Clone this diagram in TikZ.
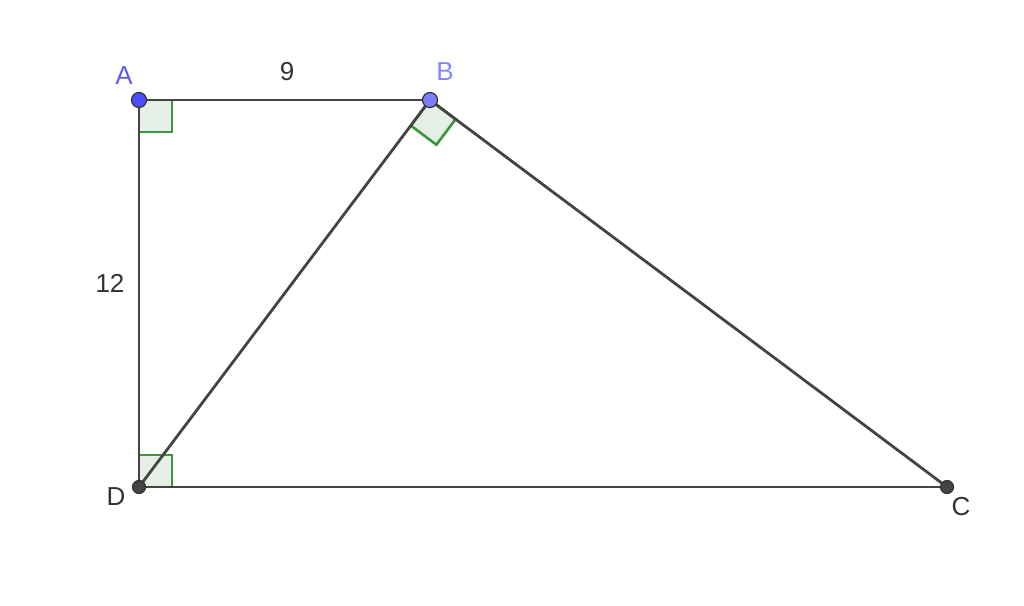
\documentclass[tikz,border=0pt]{standalone}
\usepackage{fontspec}
\setmainfont{Liberation Sans}
\usetikzlibrary{calc}
\definecolor{seg}{HTML}{444444}
\definecolor{ptA}{HTML}{4D4DFF}
\definecolor{ptB}{HTML}{7D7DFF}
\definecolor{labA}{HTML}{5C5CF0}
\definecolor{labB}{HTML}{8585FF}
\definecolor{rgreen}{HTML}{3C963C}
\definecolor{rfill}{HTML}{E6EFE6}
\definecolor{txt}{HTML}{333333}
\tikzset{
  segline/.style={draw=seg, line width=2.8pt},
  rightang/.style={draw=rgreen, fill=rfill, line width=2.6pt},
  dotpt/.style={circle, inner sep=0pt, minimum size=15pt, draw=black!80, line width=1.2pt},
  lab/.style={font=\fontsize{26}{26}\selectfont, inner sep=0pt},
}
\begin{document}
\begin{tikzpicture}[x=1pt,y=-1pt]
\useasboundingbox (0,0) rectangle (1024,605);
\coordinate (A) at (139,100);
\coordinate (B) at (430,100);
\coordinate (D) at (139,487);
\coordinate (C) at (947,487);
% right angle marks
\path[rightang] (A) rectangle ($(A)+(33,32)$);
\path[rightang] ($(D)+(0,-32)$) rectangle ($(D)+(33,0)$);
\path[rightang] (B) -- ($(B)!32pt!(D)$) -- ($(B)!32pt!(D)+(B)!32pt!(C)-(B)$) -- ($(B)!32pt!(C)$) -- cycle;
% segments
\draw[segline] (A) -- (B);
\draw[segline] (B) -- (C);
\draw[segline] (C) -- (D);
\draw[segline] (D) -- (A);
\draw[segline] (B) -- (D);
% points
\node[dotpt, fill=ptA] (pA) at (A) {};
\node[dotpt, fill=ptB] (pB) at (B) {};
\node[dotpt, fill=seg, minimum size=13pt] (pD) at (D) {};
\node[dotpt, fill=seg, minimum size=13pt] (pC) at (C) {};
% labels
\node[lab, text=labA] (lA) at (124,76) {A};
\node[lab, text=labB] (lB) at (445,72) {B};
\node[lab, text=txt] (lD) at (116,497) {D};
\node[lab, text=txt] (lC) at (961,507) {C};
\node[lab, text=txt] (l9) at (287,72) {9};
\node[lab, text=txt] (l12) at (110,283) {12};
\end{tikzpicture}
\end{document}
